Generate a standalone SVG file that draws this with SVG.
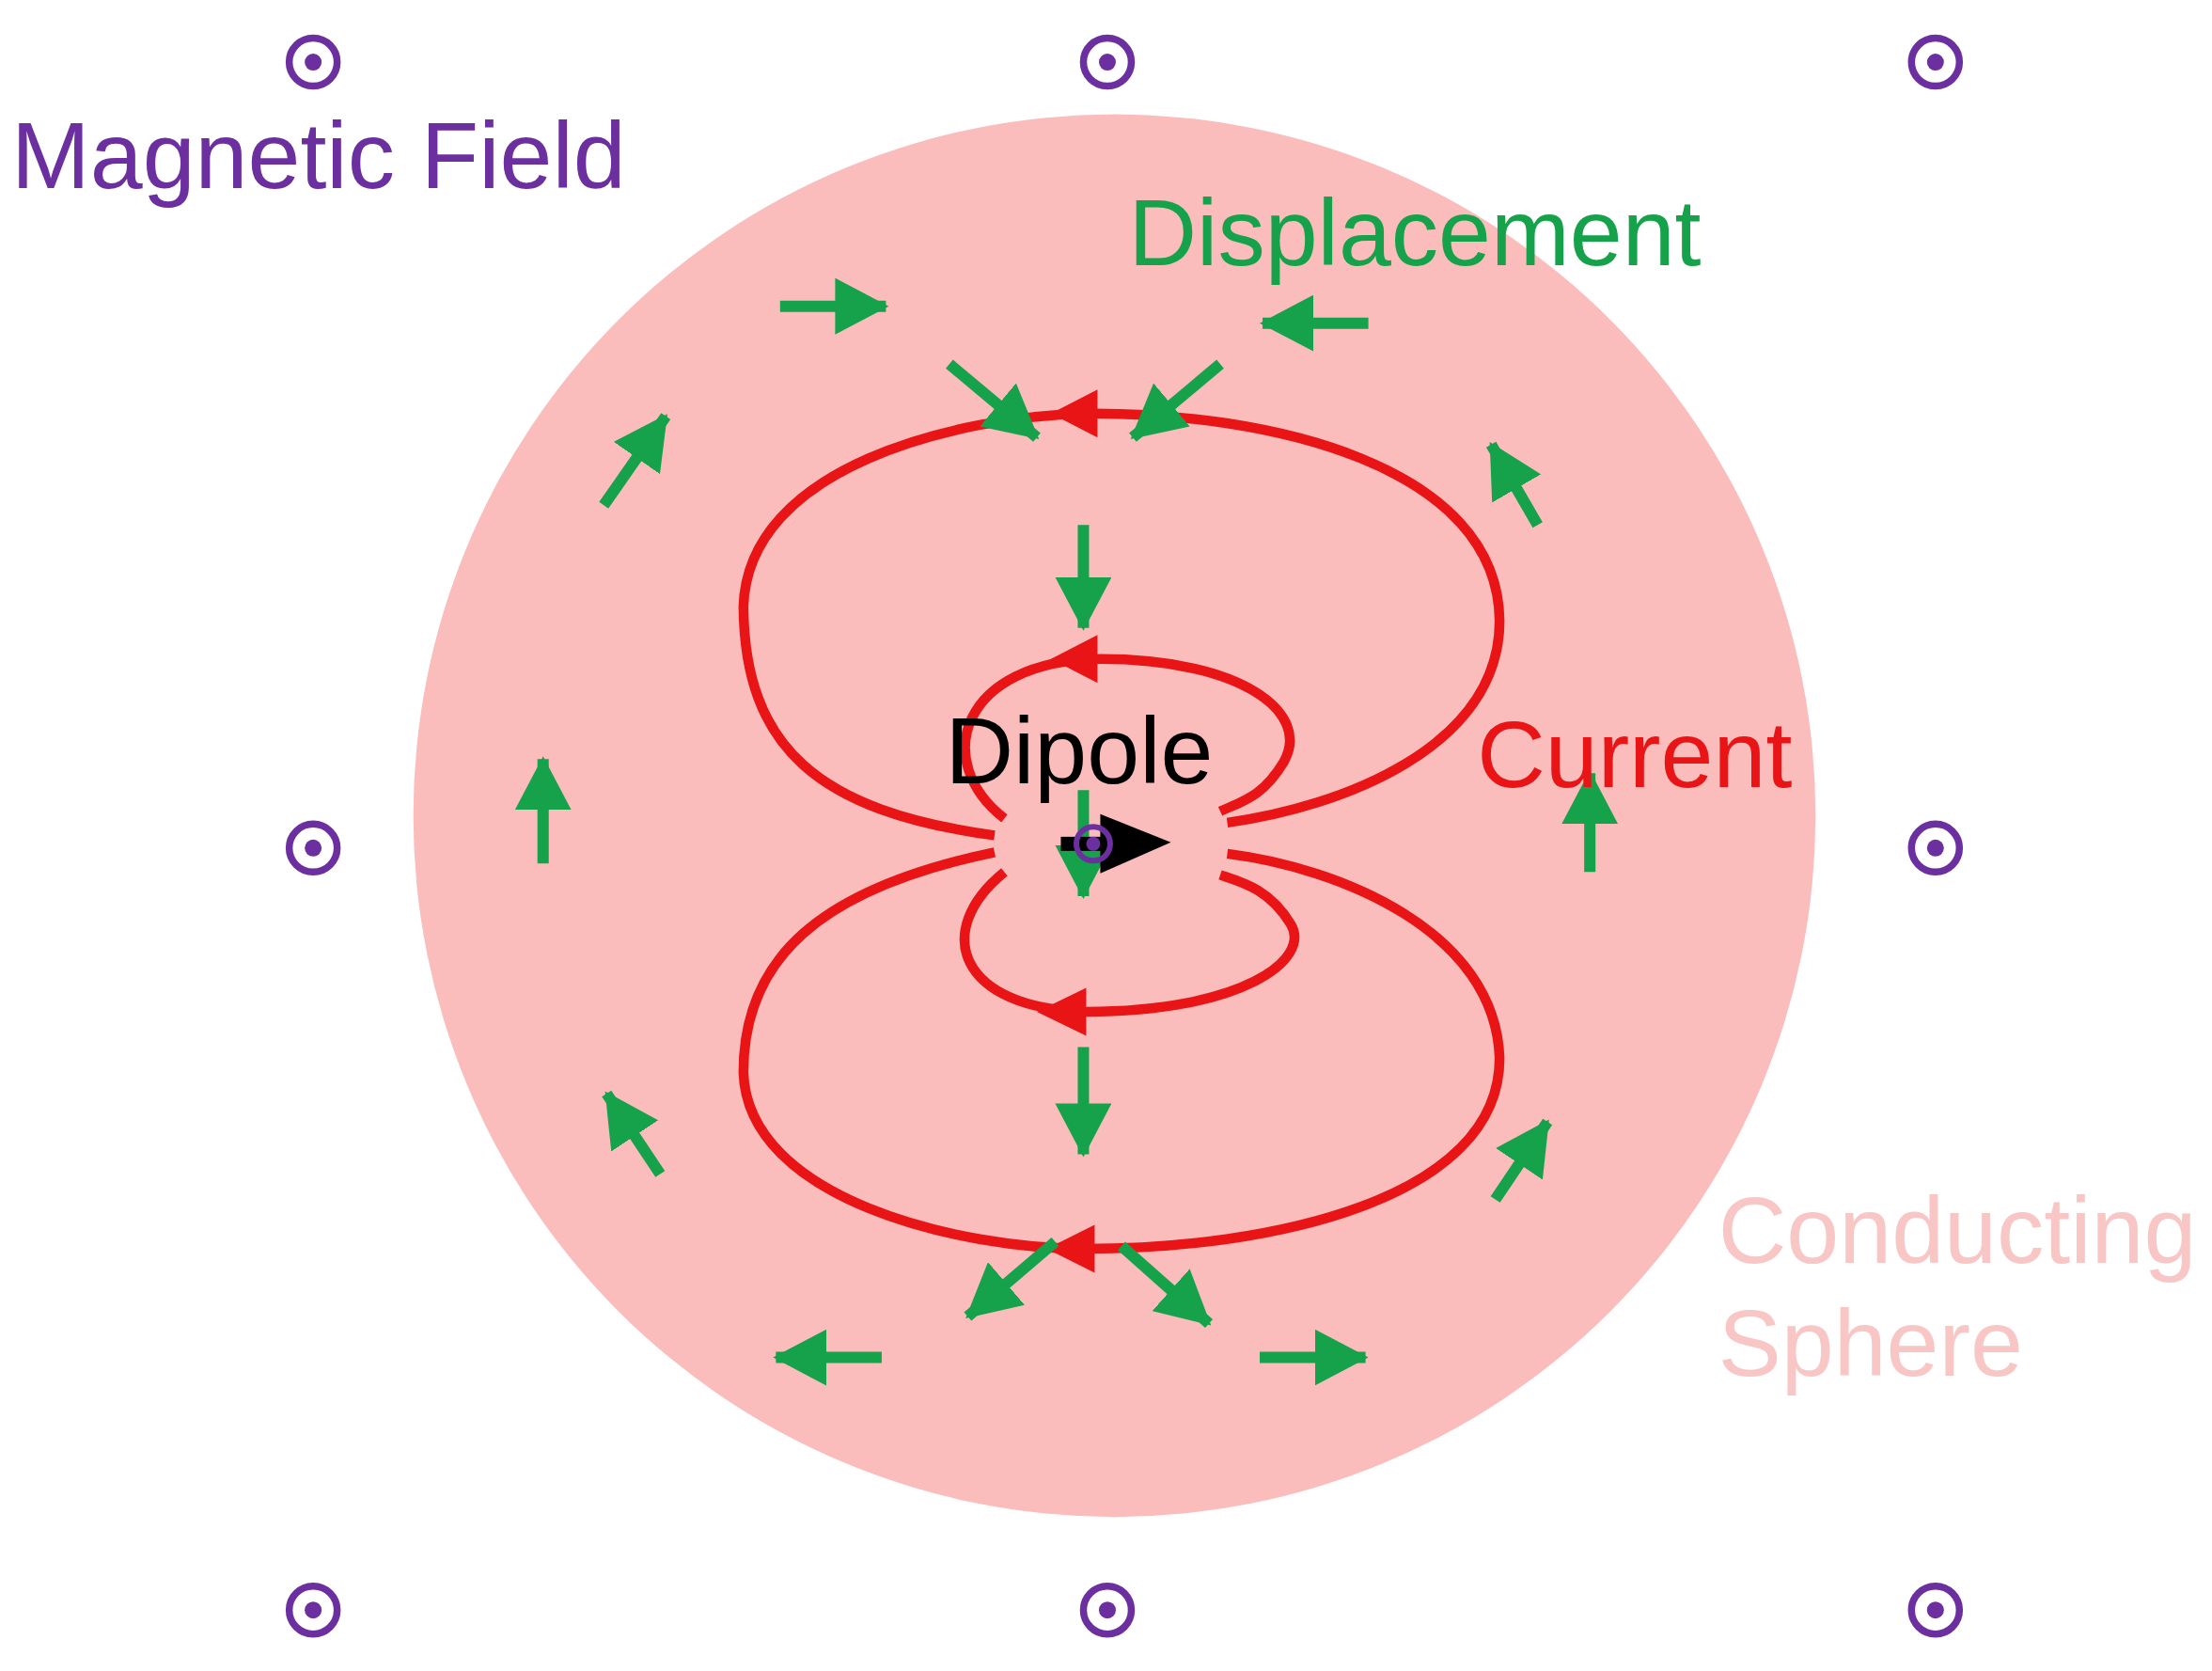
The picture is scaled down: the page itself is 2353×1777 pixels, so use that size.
<svg xmlns="http://www.w3.org/2000/svg" width="2353" height="1777" viewBox="0 0 2353 1777">
<style>
.t{font-family:"Liberation Sans",Arial,sans-serif;font-size:67px}
.g{stroke:#15a24a;stroke-width:8;fill:none}
.r{stroke:#e81416;stroke-width:7;fill:none;stroke-linejoin:round}
.ring{fill:none;stroke:#6b2fa0;stroke-width:5}
.dot{fill:#6b2fa0}
</style>
<defs>
<marker id="ga" markerUnits="userSpaceOnUse" markerWidth="40" markerHeight="40" viewBox="0 0 40 40" refX="36" refY="20" orient="auto"><path d="M0,0 L38,20 L0,40 Z" fill="#15a24a"/></marker>
<symbol id="b" overflow="visible"><circle r="17" class="ring"/><circle r="6" class="dot"/></symbol>
</defs>
<rect width="2353" height="1777" fill="#fff"/>
<g transform="scale(1.5006)">
<g id="sphere"><circle cx="790" cy="578" r="497" fill="#fbbcbc"/></g>
<g id="fields">
<use href="#b" x="222" y="44"/><use href="#b" x="785" y="44"/><use href="#b" x="1372" y="44"/>
<use href="#b" x="222" y="601"/><use href="#b" x="1372" y="601"/>
<use href="#b" x="222" y="1141"/><use href="#b" x="785" y="1141"/><use href="#b" x="1372" y="1141"/>
</g>
<g id="current">
<path class="r" d="M705,592 C580,575 528,530 527,430 C530,330 680,295 770,293 C900,292 1062,330 1063,440 C1063,530 950,572 870,583"/>
<path class="r" d="M712,580 C660,540 680,468 780,467 C880,467 930,505 910,540 C895,565 880,568 865,575"/>
<path class="r" d="M705,604 C580,630 527,680 527,760 C530,850 680,885 770,885 C900,885 1063,850 1063,750 C1060,660 950,615 870,605"/>
<path class="r" d="M712,618 C660,660 680,715 770,717 C880,717 930,680 915,655 C900,630 880,625 865,620"/>
<path d="M745,293 L778,276 L778,310 Z" fill="#e81416"/>
<path d="M745,467 L778,450 L778,484 Z" fill="#e81416"/>
<path d="M735,717 L770,700 L770,734 Z" fill="#e81416"/>
<path d="M742,885 L776,868 L776,902 Z" fill="#e81416"/>
</g>
<g id="displacement">
<line class="g" marker-end="url(#ga)" x1="553" y1="217" x2="628" y2="217"/>
<line class="g" marker-end="url(#ga)" x1="970" y1="229" x2="895" y2="229"/>
<line class="g" marker-end="url(#ga)" x1="673" y1="258" x2="735" y2="310"/>
<line class="g" marker-end="url(#ga)" x1="865" y1="258" x2="803" y2="310"/>
<line class="g" marker-end="url(#ga)" x1="768" y1="372" x2="768" y2="445"/>
<line class="g" marker-end="url(#ga)" x1="428" y1="358" x2="472" y2="295"/>
<line class="g" marker-end="url(#ga)" x1="1090" y1="372" x2="1057" y2="315"/>
<line class="g" marker-end="url(#ga)" x1="385" y1="612" x2="385" y2="538"/>
<line class="g" marker-end="url(#ga)" x1="1127" y1="618" x2="1127" y2="548"/>
<line class="g" marker-end="url(#ga)" x1="768" y1="560" x2="768" y2="635"/>
<line class="g" marker-end="url(#ga)" x1="768" y1="742" x2="768" y2="818"/>
<line class="g" marker-end="url(#ga)" x1="468" y1="832" x2="430" y2="775"/>
<line class="g" marker-end="url(#ga)" x1="1060" y1="850" x2="1097" y2="795"/>
<line class="g" marker-end="url(#ga)" x1="748" y1="880" x2="686" y2="933"/>
<line class="g" marker-end="url(#ga)" x1="795" y1="883" x2="857" y2="938"/>
<line class="g" marker-end="url(#ga)" x1="625" y1="962" x2="550" y2="962"/>
<line class="g" marker-end="url(#ga)" x1="893" y1="962" x2="968" y2="962"/>
</g>
<g id="dipole">
<rect x="752" y="593" width="30" height="10" fill="#000"/>
<path d="M780,577 L830,597 L780,619 Z" fill="#000"/>
<circle cx="775" cy="598" r="12" fill="none" stroke="#6b2fa0" stroke-width="4"/>
<circle cx="775" cy="598" r="5" fill="#6b2fa0"/>
<text class="t" x="670" y="555" fill="#000">Dipole</text>
</g>
<g id="labels">
<text class="t" x="8" y="133" fill="#6b2fa0">Magnetic Field</text>
<text class="t" x="800" y="188" fill="#15a24a">Displacement</text>
<text class="t" x="1047" y="558" fill="#e81416">Current</text>
<text class="t" x="1218" y="895" fill="#f9c6c6">Conducting</text>
<text class="t" x="1218" y="975" fill="#f9c6c6">Sphere</text>
</g>
</g>
</svg>
